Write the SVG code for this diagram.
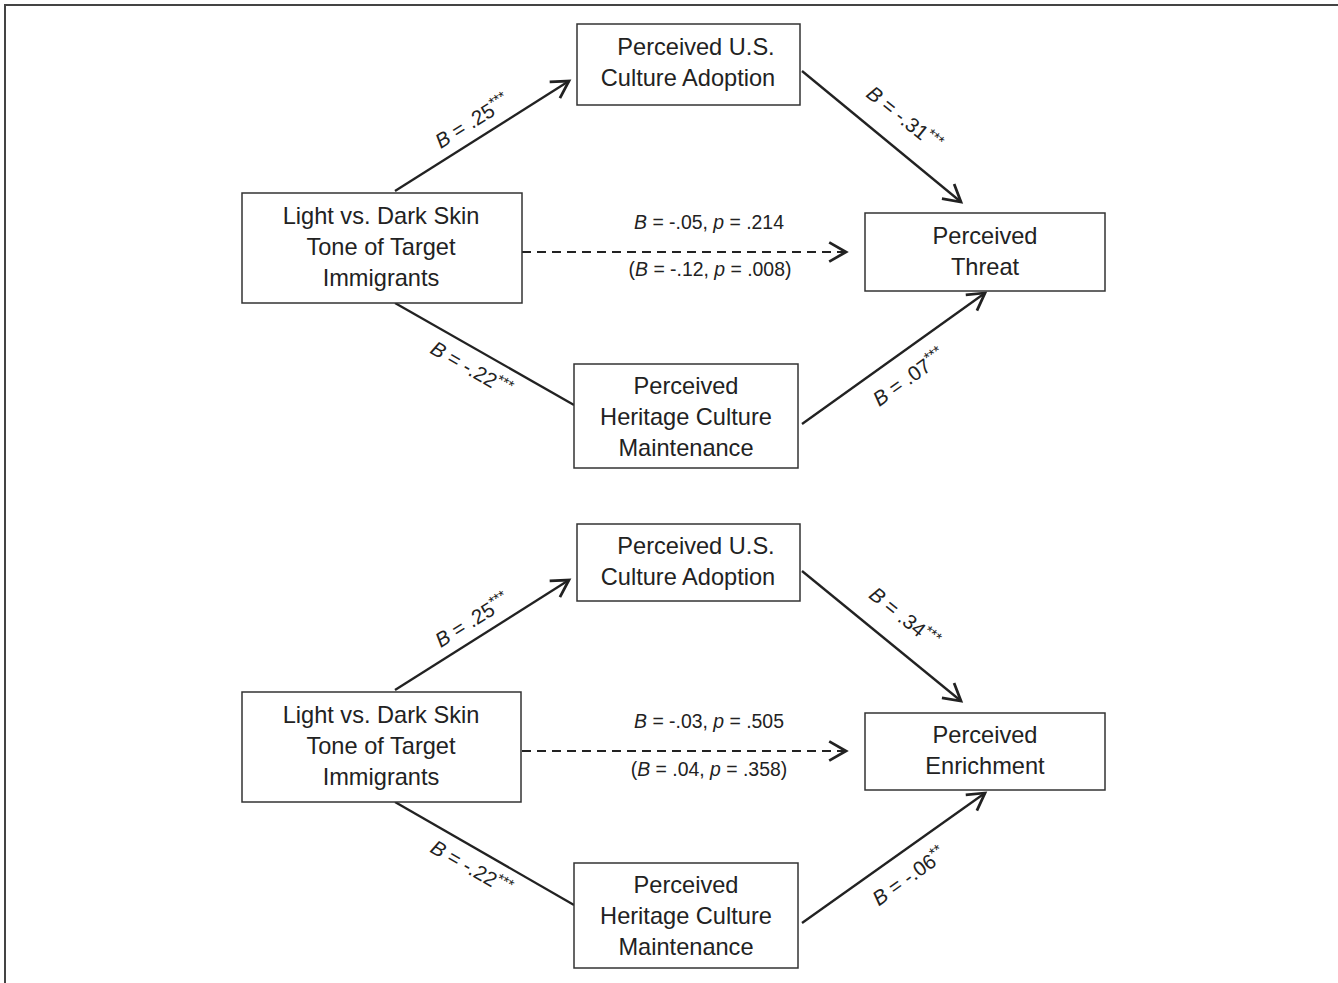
<svg xmlns="http://www.w3.org/2000/svg" width="1338" height="983" viewBox="0 0 1338 983">
<style>
.box{fill:#fff;stroke:#333;stroke-width:1.5}
.nt{font-family:"Liberation Sans",Arial,sans-serif;font-size:23.6px;fill:#222;text-anchor:middle}
.lb{font-family:"Liberation Sans",Arial,sans-serif;font-size:19.4px;fill:#222;text-anchor:middle}
.dg{font-size:20.5px}
.it{font-style:italic}
.sup{font-size:15px}
.ln{stroke:#222;stroke-width:2.3;fill:none}
.dash{stroke:#222;stroke-width:2;fill:none;stroke-dasharray:9,6}
.frame{stroke:#444;stroke-width:2;fill:none}
</style>
<defs>
<marker id="ah" markerUnits="userSpaceOnUse" markerWidth="24" markerHeight="24" refX="16" refY="10" orient="auto" viewBox="0 0 20 20">
<path d="M2,2 L16,10 L2,18" fill="none" stroke="#222" stroke-width="2.3"/>
</marker>
</defs>
<rect width="1338" height="983" fill="#fff"/>
<path class="frame" d="M5,983 L5,5 L1338,5"/>

<g id="connectors">
<line class="ln" x1="395" y1="191" x2="569" y2="81" marker-end="url(#ah)"/>
<line class="ln" x1="802" y1="71" x2="961" y2="202" marker-end="url(#ah)"/>
<line class="dash" x1="522" y1="252" x2="846" y2="252" marker-end="url(#ah)"/>
<line class="ln" x1="395" y1="303" x2="574" y2="405"/>
<line class="ln" x1="802" y1="424" x2="985" y2="293" marker-end="url(#ah)"/>

<line class="ln" x1="395" y1="690" x2="569" y2="580" marker-end="url(#ah)"/>
<line class="ln" x1="802" y1="571" x2="961" y2="701" marker-end="url(#ah)"/>
<line class="dash" x1="522" y1="751" x2="846" y2="751" marker-end="url(#ah)"/>
<line class="ln" x1="395" y1="802" x2="574" y2="905"/>
<line class="ln" x1="802" y1="923" x2="985" y2="793" marker-end="url(#ah)"/>

<text class="lb dg" transform="translate(476,127) rotate(-32)"><tspan class="it">B</tspan> = .25<tspan class="sup" dy="-7">***</tspan></text>
<text class="lb dg" transform="translate(900,124) rotate(39)"><tspan class="it">B</tspan> = -.31<tspan class="sup" dy="-7">***</tspan></text>
<text class="lb dg" transform="translate(468,375) rotate(30)"><tspan class="it">B</tspan> = -.22<tspan class="sup" dy="-7">***</tspan></text>
<text class="lb dg" transform="translate(913,383) rotate(-35.5)"><tspan class="it">B</tspan> = .07<tspan class="sup" dy="-7">***</tspan></text>
<text class="lb" x="709" y="229"><tspan class="it">B</tspan> = -.05, <tspan class="it">p</tspan> = .214</text>
<text class="lb" x="710" y="276">(<tspan class="it">B</tspan> = -.12, <tspan class="it">p</tspan> = .008)</text>

<text class="lb dg" transform="translate(476,626) rotate(-32)"><tspan class="it">B</tspan> = .25<tspan class="sup" dy="-7">***</tspan></text>
<text class="lb dg" transform="translate(900,623) rotate(39)"><tspan class="it">B</tspan> = .34<tspan class="sup" dy="-7">***</tspan></text>
<text class="lb dg" transform="translate(468,874) rotate(30)"><tspan class="it">B</tspan> = -.22<tspan class="sup" dy="-7">***</tspan></text>
<text class="lb dg" transform="translate(913,882) rotate(-35.5)"><tspan class="it">B</tspan> = -.06<tspan class="sup" dy="-7">**</tspan></text>
<text class="lb" x="709" y="728"><tspan class="it">B</tspan> = -.03, <tspan class="it">p</tspan> = .505</text>
<text class="lb" x="709" y="776">(<tspan class="it">B</tspan> = .04, <tspan class="it">p</tspan> = .358)</text>
</g>

<g id="adoption1">
<rect class="box" x="577" y="24" width="223" height="81"/>
<text class="nt" x="696" y="55">Perceived U.S.</text>
<text class="nt" x="688" y="86">Culture Adoption</text>
</g>
<g id="skin1">
<rect class="box" x="242" y="193" width="280" height="110"/>
<text class="nt" x="381" y="224">Light vs. Dark Skin</text>
<text class="nt" x="381" y="255">Tone of Target</text>
<text class="nt" x="381" y="286">Immigrants</text>
</g>
<g id="threat">
<rect class="box" x="865" y="213" width="240" height="78"/>
<text class="nt" x="985" y="244">Perceived</text>
<text class="nt" x="985" y="275">Threat</text>
</g>
<g id="heritage1">
<rect class="box" x="574" y="364" width="224" height="104"/>
<text class="nt" x="686" y="394">Perceived</text>
<text class="nt" x="686" y="425">Heritage Culture</text>
<text class="nt" x="686" y="456">Maintenance</text>
</g>

<g id="adoption2">
<rect class="box" x="577" y="524" width="223" height="77"/>
<text class="nt" x="696" y="554">Perceived U.S.</text>
<text class="nt" x="688" y="585">Culture Adoption</text>
</g>
<g id="skin2">
<rect class="box" x="242" y="692" width="279" height="110"/>
<text class="nt" x="381" y="723">Light vs. Dark Skin</text>
<text class="nt" x="381" y="754">Tone of Target</text>
<text class="nt" x="381" y="785">Immigrants</text>
</g>
<g id="enrichment">
<rect class="box" x="865" y="713" width="240" height="77"/>
<text class="nt" x="985" y="743">Perceived</text>
<text class="nt" x="985" y="774">Enrichment</text>
</g>
<g id="heritage2">
<rect class="box" x="574" y="863" width="224" height="105"/>
<text class="nt" x="686" y="893">Perceived</text>
<text class="nt" x="686" y="924">Heritage Culture</text>
<text class="nt" x="686" y="955">Maintenance</text>
</g>
</svg>
